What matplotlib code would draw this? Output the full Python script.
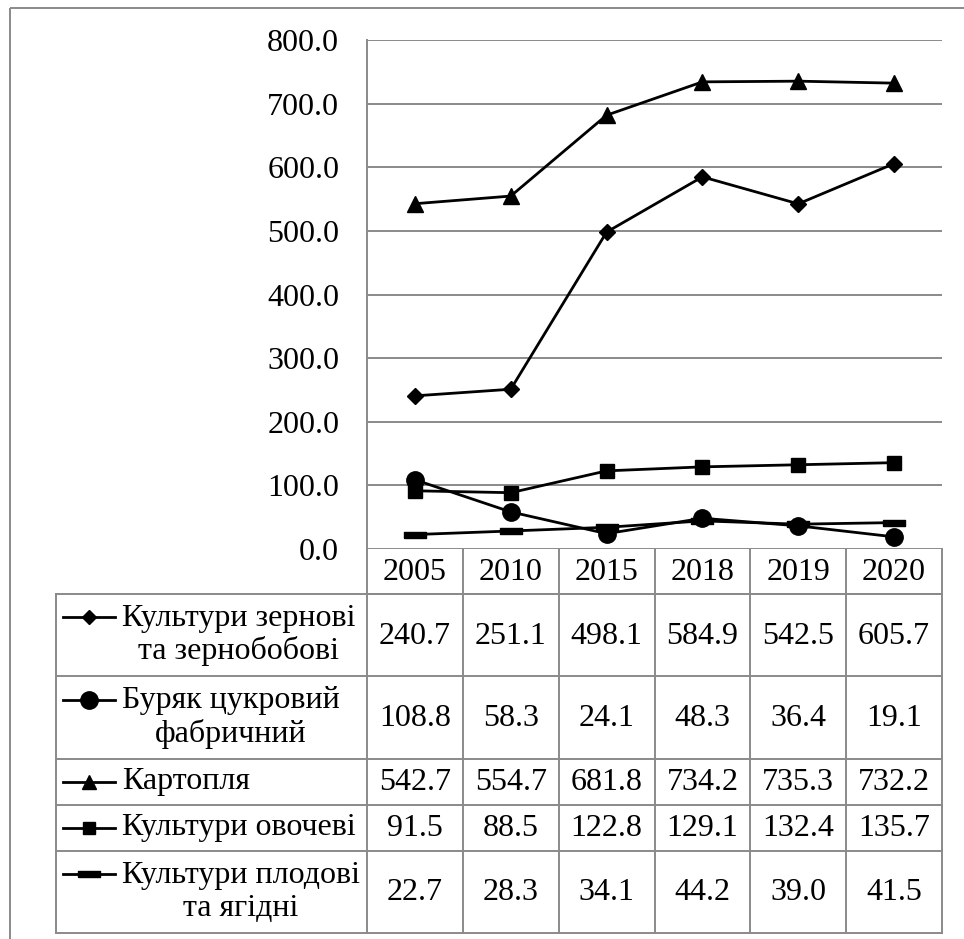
import matplotlib
matplotlib.use("Agg")
import matplotlib.pyplot as plt
from matplotlib.patches import Rectangle
from matplotlib.lines import Line2D

plt.rcParams['font.family'] = ['Liberation Serif', 'DejaVu Serif']

years = ["2005", "2010", "2015", "2018", "2019", "2020"]

grain = [240.7, 251.1, 498.1, 584.9, 542.5, 605.7]
sugar_beet = [108.8, 58.3, 24.1, 48.3, 36.4, 19.1]
potato = [542.7, 554.7, 681.8, 734.2, 735.3, 732.2]
vegetables = [91.5, 88.5, 122.8, 129.1, 132.4, 135.7]
fruit = [22.7, 28.3, 34.1, 44.2, 39.0, 41.5]

labels = [
    "Культури зернові\nта зернобобові",
    "Буряк цукровий\nфабричний",
    "Картопля",
    "Культури овочеві",
    "Культури плодові\nта ягідні",
]

y_ticks = [0, 100, 200, 300, 400, 500, 600, 700, 800]

W, H = 964, 939
GRAY = "#8a8a8a"
FS = 23
LW = 2.0

# horizontal dash marker
dash = [(-1, -0.24), (1, -0.24), (1, 0.24), (-1, 0.24), (-1, -0.24)]

series = [
    (grain, dict(marker="D", ms=8.5)),
    (sugar_beet, dict(marker="o", ms=12.5)),
    (potato, dict(marker="^", ms=11)),
    (vegetables, dict(marker="s", ms=9.5)),
    (fruit, dict(marker=dash, ms=16)),
]

fig = plt.figure(figsize=(W / 100, H / 100), dpi=100)

# overlay in pixel coordinates for the frame and the data table
tab = fig.add_axes([0, 0, 1, 1], zorder=0)
tab.set_xlim(0, W)
tab.set_ylim(H, 0)
tab.axis("off")

px_left, px_right, px_top, px_bottom = 367, 942, 40, 549
ax = fig.add_axes([px_left / W, 1 - px_bottom / H,
                   (px_right - px_left) / W, (px_bottom - px_top) / H], zorder=2)
ax.patch.set_alpha(0)

x = list(range(len(years)))
for values, style in series:
    ax.plot(x, values, color="black", lw=LW, mfc="black", mec="black",
            clip_on=False, **style)

ax.set_xlim(-0.5, len(years) - 0.5)
ax.set_ylim(0, 800)
ax.set_yticks(y_ticks)
ax.set_yticklabels([f"{v:.1f}" for v in y_ticks], fontsize=FS)
ax.tick_params(axis="y", length=0, pad=20)
ax.set_xticks([])
ax.grid(axis="y", color=GRAY, lw=1.4)
ax.set_axisbelow(True)
for s in ["top", "right", "bottom"]:
    ax.spines[s].set_visible(False)
ax.spines["left"].set_color(GRAY)
ax.spines["left"].set_linewidth(1.4)

# outer frame of the chart
tab.add_patch(Rectangle((10, 8), 2000, 2000, fill=False, ec=GRAY, lw=1.4))

# column edges of the table follow the category axis
fig.canvas.draw()
to_px = tab.transData.inverted()
col_edges = []
for i in range(len(years) + 1):
    disp = ax.transData.transform((i - 0.5, 0))
    col_edges.append(to_px.transform(disp)[0])

header_top, header_bot = px_bottom, 594
row_edges = [594, 676, 759, 805, 851, 933]
legend_left = 56

# table grid
tab.plot([col_edges[0], col_edges[-1]], [header_bot, header_bot], color=GRAY, lw=1.4)
for yv in row_edges:
    tab.plot([legend_left, col_edges[-1]], [yv, yv], color=GRAY, lw=1.4)
for xe in col_edges:
    tab.plot([xe, xe], [header_top, row_edges[-1]], color=GRAY, lw=1.4)
tab.plot([legend_left, legend_left], [row_edges[0], row_edges[-1]], color=GRAY, lw=1.4)

# year header
for i, yr in enumerate(years):
    cx = (col_edges[i] + col_edges[i + 1]) / 2
    tab.text(cx, (header_top + header_bot) / 2 + 1, yr, ha="center", va="center", fontsize=FS)

# rows: legend key, name, values
key_sizes = [7, 12.5, 10.5, 9, 16]
for r, ((values, style), name) in enumerate(zip(series, labels)):
    top, bot = row_edges[r], row_edges[r + 1]
    cy = (top + bot) / 2
    nlines = name.count("\n") + 1
    key_y = cy - 18 * (nlines - 1)
    tab.add_line(Line2D([63, 115], [key_y, key_y], color="black", lw=LW))
    key_style = dict(style, ms=key_sizes[r])
    tab.add_line(Line2D([89], [key_y], color="black", mfc="black", mec="black", **key_style))
    tab.text(122, cy, name, ha="left", va="center", multialignment="center",
             fontsize=FS, linespacing=1.14)
    for i, v in enumerate(values):
        cx = (col_edges[i] + col_edges[i + 1]) / 2
        tab.text(cx, cy + 1, f"{v:.1f}", ha="center", va="center", fontsize=FS)

fig.savefig("out.png", dpi=100)
